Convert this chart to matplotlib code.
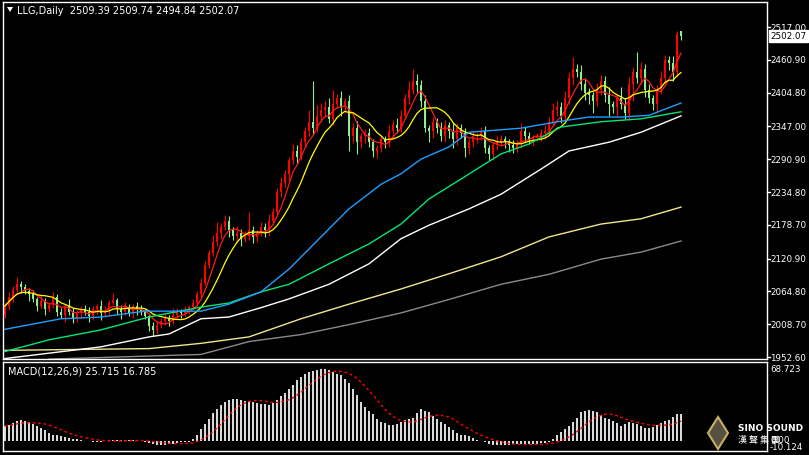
import numpy as np
import pandas as pd
import matplotlib
matplotlib.use("Agg")
import matplotlib.pyplot as plt
from matplotlib.patches import Polygon

# ---- data ----
closes = [2040, 2055, 2068, 2078, 2072, 2066, 2060, 2052, 2040, 2048,
          2035, 2042, 2055, 2030, 2025, 2040, 2030, 2018, 2028, 2035,
          2030, 2022, 2035, 2040, 2028, 2033, 2045, 2050, 2035, 2030,
          2038, 2028, 2040, 2035, 2030, 2022, 2005, 1998, 2008, 2015,
          2020, 2015, 2025, 2030, 2028, 2032, 2038, 2045, 2060, 2080,
          2110, 2130, 2150, 2165, 2175, 2185, 2170, 2160, 2165, 2155,
          2160, 2170, 2158, 2165, 2175, 2170, 2185, 2200, 2235, 2250,
          2265, 2290, 2305, 2295, 2320, 2340, 2355, 2345, 2365, 2375,
          2380, 2360, 2385, 2395, 2380, 2390, 2330, 2345, 2320, 2330,
          2335, 2320, 2305, 2310, 2325, 2320, 2340, 2350, 2345, 2365,
          2395, 2410, 2425, 2418, 2390, 2345, 2340, 2355, 2345, 2330,
          2350, 2340, 2325, 2345, 2335, 2310, 2320, 2330, 2330, 2340,
          2310, 2300, 2315, 2320, 2325, 2320, 2315, 2310, 2318, 2340,
          2330, 2325, 2328, 2330, 2335, 2340, 2355, 2375, 2380, 2365,
          2395, 2430, 2445, 2440, 2420, 2405, 2400, 2390, 2410, 2425,
          2400, 2385, 2380, 2395, 2385, 2370, 2420, 2440, 2430, 2445,
          2410, 2395, 2385, 2410, 2430, 2460, 2455, 2440, 2505, 2502.07]
opens = [2025, 2040, 2055, 2068, 2078, 2072, 2066, 2060, 2052, 2040,
         2048, 2035, 2042, 2055, 2030, 2025, 2040, 2030, 2018, 2028,
         2035, 2030, 2022, 2035, 2040, 2028, 2033, 2045, 2050, 2035,
         2030, 2038, 2028, 2040, 2035, 2030, 2022, 2005, 1998, 2008,
         2015, 2020, 2015, 2025, 2030, 2028, 2032, 2038, 2045, 2060,
         2080, 2110, 2130, 2150, 2165, 2175, 2185, 2170, 2160, 2165,
         2155, 2160, 2170, 2158, 2165, 2175, 2170, 2185, 2200, 2235,
         2250, 2265, 2290, 2305, 2295, 2320, 2340, 2355, 2345, 2365,
         2375, 2380, 2360, 2385, 2395, 2380, 2390, 2330, 2345, 2320,
         2330, 2335, 2320, 2305, 2310, 2325, 2320, 2340, 2350, 2345,
         2365, 2395, 2410, 2425, 2418, 2390, 2345, 2340, 2355, 2345,
         2330, 2350, 2340, 2325, 2345, 2335, 2310, 2320, 2330, 2330,
         2340, 2310, 2300, 2315, 2320, 2325, 2320, 2315, 2310, 2318,
         2340, 2330, 2325, 2328, 2330, 2335, 2340, 2355, 2375, 2380,
         2365, 2395, 2430, 2445, 2440, 2420, 2405, 2400, 2390, 2410,
         2425, 2400, 2385, 2380, 2395, 2385, 2370, 2420, 2440, 2430,
         2445, 2410, 2395, 2385, 2410, 2430, 2460, 2455, 2440, 2509.39]
upper_wick = [5, 8, 6, 12, 4, 6, 5, 8, 3, 10, 6, 4, 9, 5, 7, 4, 12, 6, 5, 4,
              6, 8, 5, 3, 10, 6, 5, 12, 4, 6, 8, 5, 4, 7, 6, 5, 4, 8, 6, 5,
              7, 4, 12, 6, 5, 8, 4, 6, 5, 8, 6, 5, 12, 18, 6, 10, 8, 5, 12, 6,
              8, 30, 6, 5, 8, 6, 12, 8, 6, 10, 8, 5, 12, 10, 8, 6, 20, 70, 18, 12,
              10, 15, 25, 8, 12, 6, 10, 8, 12, 6, 8, 10, 6, 5, 8, 6, 10, 8, 12, 10,
              8, 15, 20, 12, 8, 10, 5, 8, 6, 10, 8, 5, 12, 8, 6, 10, 6, 8, 5, 6,
              8, 6, 5, 10, 8, 6, 5, 8, 6, 12, 6, 8, 5, 6, 8, 10, 8, 12, 10, 8,
              12, 10, 20, 8, 12, 10, 8, 6, 12, 10, 8, 15, 6, 8, 20, 10, 12, 8, 35, 12,
              8, 10, 6, 8, 12, 10, 8, 12, 5, 0.35]
lower_wick = [6, 5, 8, 4, 10, 6, 12, 5, 8, 4, 10, 6, 5, 8, 6, 12, 5, 7, 6, 8,
              5, 10, 6, 8, 12, 5, 6, 4, 8, 12, 5, 6, 8, 10, 6, 5, 8, 10, 6, 5,
              8, 10, 6, 5, 8, 6, 5, 4, 6, 5, 4, 6, 5, 8, 10, 6, 12, 8, 10, 12,
              6, 8, 10, 8, 6, 12, 10, 5, 6, 8, 6, 10, 8, 12, 6, 8, 10, 12, 8, 10,
              12, 8, 10, 6, 15, 10, 25, 12, 20, 10, 12, 8, 10, 12, 6, 10, 8, 12, 10, 8,
              6, 10, 8, 12, 10, 8, 20, 12, 10, 8, 10, 12, 15, 10, 8, 15, 10, 8, 12, 6,
              8, 12, 10, 8, 6, 10, 12, 8, 6, 8, 10, 8, 12, 6, 8, 10, 6, 8, 10, 12,
              8, 10, 12, 8, 10, 12, 15, 20, 8, 10, 12, 20, 10, 15, 8, 10, 12, 30, 8, 10,
              12, 8, 10, 15, 8, 10, 12, 15, 8, 7.2]

# long moving averages: (candle index, value) pairs
ma_blue = [(0, 2000), (14, 2018), (24, 2021), (35, 2031), (49, 2031), (56, 2043), (64, 2064),
           (71, 2103), (79, 2158), (86, 2206), (94, 2248), (99, 2266), (104, 2291),
           (111, 2312), (116, 2337), (129, 2344), (139, 2356), (146, 2363), (154, 2363),
           (161, 2366), (169, 2387)]
ma_green = [(0, 1962), (11, 1982), (24, 1999), (36, 2021), (49, 2038), (56, 2045), (64, 2064),
            (71, 2077), (81, 2112), (91, 2146), (99, 2180), (106, 2223), (114, 2257),
            (124, 2300), (131, 2317), (139, 2346), (149, 2355), (159, 2360), (169, 2372)]
ma_white = [(0, 1950), (24, 1970), (36, 1987), (41, 1992), (49, 2018), (56, 2021), (64, 2037),
            (71, 2052), (81, 2077), (91, 2112), (99, 2155), (106, 2178), (116, 2206),
            (124, 2231), (134, 2274), (141, 2305), (151, 2320), (159, 2337), (169, 2365)]
ma_khaki = [(0, 1964), (24, 1966), (36, 1967), (49, 1976), (61, 1987), (74, 2018), (86, 2043),
            (99, 2069), (111, 2095), (124, 2124), (136, 2158), (149, 2180), (159, 2189),
            (169, 2209)]
ma_gray = [(11, 1949), (49, 1957), (61, 1979), (74, 1991), (86, 2008), (99, 2028),
           (111, 2051), (124, 2077), (136, 2094), (149, 2120), (159, 2132), (169, 2151)]

macd_hist = [14, 15.5, 17, 18.5, 19.5, 19, 18, 16, 14, 12,
             10, 8, 6, 5.5, 5, 4, 3, 2, 1.5, 0.8,
             0, -0.3, -0.6, -0.5, -0.5, 0, 0.5, 0.8, 1, 0.8,
             0.5, 0.5, 0.5, 0.2, 0, -1, -2, -3, -3.5, -3.5,
             -3.5, -3, -2.5, -1.5, -1, -0.7, -0.5, 2, 6, 11,
             16, 21, 26, 30, 34, 37, 39, 40, 40, 39,
             38, 37.5, 37, 36, 35, 34.5, 34, 36, 39, 42,
             45, 49, 53, 57, 60, 63, 65, 66, 67, 67.5,
             68, 66.5, 65, 63.5, 62, 58, 55, 49, 43, 37,
             32, 28, 25, 21, 18, 16.5, 15.5, 15.5, 16, 18,
             20, 21, 22, 26, 30, 28, 27, 24, 21, 18,
             16, 13, 10, 8, 6, 5.5, 5, 2.5, 0.5, -0.3,
             -1, -2.5, -3.5, -3.6, -3.7, -3.6, -3.5, -3.2, -3, -3,
             -3, -3, -3, -2.5, -2, -1.5, -1, 2, 6, 8.5,
             11, 14.5, 18, 22, 27, 28, 29, 28, 27, 24.5,
             22, 20.5, 19, 16.5, 14, 16, 18, 17, 16, 14,
             12, 12.5, 13, 15, 17, 18.5, 20, 22.5, 25, 25.7]

BG = "black"
UP = "#ff0000"
DOWN = "#90ee90"

fig = plt.figure(figsize=(8.09, 4.56), dpi=100, facecolor=BG)
W, H = 809, 456
ax = fig.add_axes([3 / W, 1 - 360 / H, 764 / W, 357 / H], facecolor=BG)
axm = fig.add_axes([3 / W, 1 - 452 / H, 764 / W, 89 / H], facecolor=BG)

n = len(closes)
idx = np.arange(n)
o = np.array(opens, float)
c = np.array(closes, float)
hi = np.maximum(o, c) + np.array(upper_wick)
lo = np.minimum(o, c) - np.array(lower_wick)

for i in idx:
    col = UP if c[i] >= o[i] else DOWN
    ax.vlines(i, lo[i], hi[i], color=col, lw=0.8)
    b0, b1 = min(o[i], c[i]), max(o[i], c[i])
    ax.bar(i, max(b1 - b0, 1.0), bottom=b0, width=0.72, color=col, lw=0)

s = pd.Series(c)
ax.plot(idx, s.rolling(5, min_periods=1).mean(), color="#ff1a1a", lw=0.9)
ax.plot(idx, s.rolling(10, min_periods=1).mean(), color="#ffff00", lw=0.9)
for pts, col in [(ma_gray, "#8a8a8a"), (ma_khaki, "#f0e68c"), (ma_white, "white"),
                 (ma_green, "#00e676"), (ma_blue, "#1e9fff")]:
    xs, ys = zip(*pts)
    ax.plot(xs, ys, color=col, lw=1)

ax.set_xlim(-0.5, 190.5)
ax.set_ylim(1949.2, 2559.8)
axm.set_xlim(-0.5, 190.5)
axm.set_ylim(-9.4, 74.4)

hist = np.array(macd_hist)
axm.bar(idx, hist, width=0.3, color="#d8d8d8", lw=0)
sig = pd.Series(hist).rolling(9, min_periods=1).mean()
axm.plot(idx, sig, color="red", lw=1, ls=(0, (2, 2)))

for a in (ax, axm):
    a.set_xticks([])
    a.set_yticks([])
    for sp in a.spines.values():
        sp.set_color("white")
        sp.set_linewidth(1)

# right price scale
price_ticks = [2517.00, 2460.90, 2404.80, 2347.00, 2290.90, 2234.80, 2178.70,
               2120.90, 2064.80, 2008.70, 1952.60]
for p in price_ticks:
    ax.annotate(f"{p:.2f}", xy=(1, p), xycoords=("axes fraction", "data"),
                xytext=(2.5, 0), textcoords="offset points", color="white",
                fontsize=6.3, va="center", ha="left", annotation_clip=False)
    ax.plot([1, 1.004], [p, p], transform=ax.get_yaxis_transform(), color="white",
            lw=1, clip_on=False)
ax.annotate("2502.07", xy=(1, closes[-1]), xycoords=("axes fraction", "data"),
            xytext=(2.5, 0), textcoords="offset points", color="black", fontsize=6.3,
            va="center", ha="left", annotation_clip=False,
            bbox=dict(boxstyle="square,pad=0.15", fc="white", ec="white"))

fig.text(770 / W, 1 - 370 / H, "68.723", color="white", fontsize=6.3, va="center")
fig.text(770 / W, 1 - 441 / H, "0.00", color="white", fontsize=6.3, va="center")
fig.text(770 / W, 1 - 448 / H, "-10.124", color="white", fontsize=6.3, va="center")

fig.text(17 / W, 1 - 11 / H, "LLG,Daily  2509.39 2509.74 2494.84 2502.07",
         color="white", fontsize=7, va="center")
fig.patches.append(Polygon([[7 / W, 1 - 8 / H], [13 / W, 1 - 8 / H], [10 / W, 1 - 13 / H]],
                           closed=True, transform=fig.transFigure, fc="white", ec="none"))
axm.text(0.006, 0.9, "MACD(12,26,9) 25.715 16.785", transform=axm.transAxes,
         color="white", fontsize=7, va="center")

# logo watermark
fig.patches.append(Polygon([[718 / W, 1 - 418 / H], [728 / W, 1 - 434 / H],
                            [718 / W, 1 - 450 / H], [708 / W, 1 - 434 / H]],
                           closed=True, transform=fig.transFigure, fc="#555040", ec="#c8b060", lw=1.5))
fig.text(738 / W, 1 - 429 / H, "SINO SOUND", color="white", fontsize=6.5,
         fontweight="bold", va="center")
fig.text(738 / W, 1 - 441 / H, "漢 聲 集 團", color="white", fontsize=6.5,
         va="center", family=["Noto Sans CJK TC", "DejaVu Sans"])

fig.savefig("out.png", dpi=100, facecolor=BG)
